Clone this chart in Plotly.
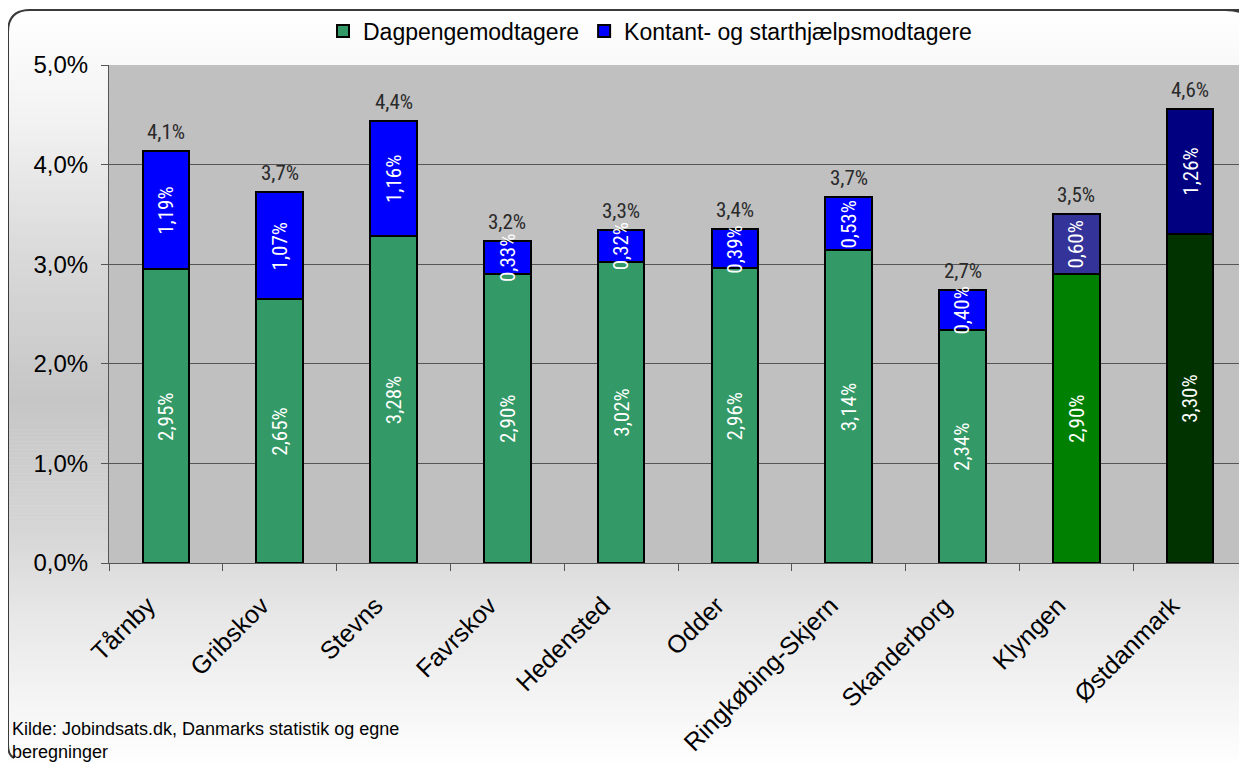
import plotly.graph_objects as go

categories = ["Tårnby", "Gribskov", "Stevns", "Favrskov", "Hedensted", "Odder",
              "Ringkøbing-Skjern", "Skanderborg", "Klyngen", "Østdanmark"]
dagpenge = [2.95, 2.65, 3.28, 2.90, 3.02, 2.96, 3.14, 2.34, 2.90, 3.30]
kontant = [1.19, 1.07, 1.16, 0.33, 0.32, 0.39, 0.53, 0.40, 0.60, 1.26]
total_labels = ["4,1%", "3,7%", "4,4%", "3,2%", "3,3%", "3,4%", "3,7%", "2,7%", "3,5%", "4,6%"]
dag_colors = ["#339966"] * 8 + ["#008000", "#003300"]
kon_colors = ["#0000FF"] * 8 + ["#333399", "#000080"]
ytick_vals = [0, 1, 2, 3, 4, 5]
ytick_text = ["0,0%", "1,0%", "2,0%", "3,0%", "4,0%", "5,0%"]
source_text = "Kilde: Jobindsats.dk, Danmarks statistik og egne<br>beregninger"

OFF = 8  # page body margin
W, H = 1247 - OFF, 762 - OFF
L, R, T, B = 109 - OFF, 1247 - OFF, 65 - OFF, 563 - OFF


def px2x(px):
    return (px - OFF - L) / (R - L)


def px2y(py):
    return (B - (py - OFF)) / (B - T)


def pct(v):
    return f"{v:.2f}%".replace(".", ",")


NARROW = "Liberation Sans Narrow, Roboto Condensed, Arial Narrow, Liberation Sans, sans-serif"
SANS = "Liberation Sans, Arial, sans-serif"

fig = go.Figure()
fig.add_trace(go.Bar(
    x=categories, y=dagpenge, name="Dagpengemodtagere",
    marker=dict(color=dag_colors, line=dict(color="black", width=2)),
))
fig.add_trace(go.Bar(
    x=categories, y=kontant, name="Kontant- og starthjælpsmodtagere",
    marker=dict(color=kon_colors, line=dict(color="black", width=2)),
))

annotations = []
for c, d, k, tl in zip(categories, dagpenge, kontant, total_labels):
    annotations.append(dict(x=c, y=d / 2, text=pct(d), textangle=-90, showarrow=False,
                            font=dict(family=NARROW, size=21, color="white")))
    annotations.append(dict(x=c, y=d + k / 2, text=pct(k), textangle=-90, showarrow=False,
                            font=dict(family=NARROW, size=21, color="white")))
    annotations.append(dict(x=c, y=d + k, text=tl, showarrow=False, yanchor="bottom", yshift=5,
                            font=dict(family=NARROW, size=21, color="#2a2a2a")))

annotations.append(dict(xref="paper", yref="paper", x=px2x(10), y=px2y(717), xanchor="left",
                        yanchor="top", align="left", text=source_text, showarrow=False,
                        font=dict(family=SANS, size=18, color="black")))

# background gradient bands (paper area)
shapes = []
stops = [(0, 255), (10, 255), (120, 242), (250, 218), (400, 198), (520, 212), (620, 232), (762, 254)]
nb = 190
for i in range(nb):
    y0 = i * 762 / nb
    y1 = (i + 1) * 762 / nb
    ym = (y0 + y1) / 2
    g = 255
    for (a, ca), (b, cb) in zip(stops[:-1], stops[1:]):
        if a <= ym <= b:
            g = int(round(ca + (cb - ca) * (ym - a) / (b - a)))
            break
    col = f"rgb({g},{g},{g})"
    shapes.append(dict(type="rect", xref="paper", yref="paper", layer="below",
                       x0=px2x(0), x1=px2x(1260), y0=px2y(y1 + 0.5), y1=px2y(y0),
                       fillcolor=col, line=dict(width=0)))
# plot area background on top of gradient
shapes.append(dict(type="rect", xref="paper", yref="paper", layer="below",
                   x0=0, x1=1, y0=0, y1=1, fillcolor="#C0C0C0", line=dict(width=0)))

# rounded border
r = 22
path = (f"M {px2x(1240)},{px2y(10)} L {px2x(8 + r)},{px2y(10)} "
        f"Q {px2x(8)},{px2y(10)} {px2x(8)},{px2y(10 + r)} "
        f"L {px2x(8)},{px2y(745)} Q {px2x(8)},{px2y(755)} {px2x(14)},{px2y(758)}")
path2 = (f"M {px2x(1225)},{px2y(10)} Q {px2x(1247)},{px2y(10)} {px2x(1252)},{px2y(22)}")
shapes.append(dict(type="path", xref="paper", yref="paper", path=path, layer="above",
                   line=dict(color="#3a3a3a", width=2)))
shapes.append(dict(type="path", xref="paper", yref="paper", path=path2, layer="above",
                   line=dict(color="#3a3a3a", width=2)))

fig.update_layout(
    width=W, height=H,
    margin=dict(l=L, r=W - R, t=T, b=H - B, autoexpand=False),
    barmode="stack", bargap=0.59,
    paper_bgcolor="white", plot_bgcolor="rgba(0,0,0,0)",
    font=dict(family=SANS, color="black"),
    showlegend=True,
    legend=dict(orientation="h", xref="container", yref="container",
                x=(650 - OFF) / W, y=1 - (31 - OFF) / H,
                xanchor="center", yanchor="middle", font=dict(family=SANS, size=23),
                bgcolor="rgba(0,0,0,0)", traceorder="normal", itemwidth=30),
    annotations=annotations,
    shapes=shapes,
    xaxis=dict(tickangle=-45, tickfont=dict(family=SANS, size=25, color="black"),
               ticks="outside", tickson="boundaries", ticklen=7, tickcolor="#555555",
               ticklabelstandoff=17, ticklabelshift=-18,
               showline=True, linecolor="#555555", linewidth=1, showgrid=False),
    yaxis=dict(range=[0, 5], tickvals=ytick_vals, ticktext=ytick_text,
               tickfont=dict(family=SANS, size=24, color="black"),
               ticks="outside", ticklen=7, tickcolor="#555555", ticklabelstandoff=8,
               showline=True, linecolor="#555555", linewidth=1,
               showgrid=True, gridcolor="#555555", gridwidth=1, zeroline=False),
)

fig.write_html("out.html")
